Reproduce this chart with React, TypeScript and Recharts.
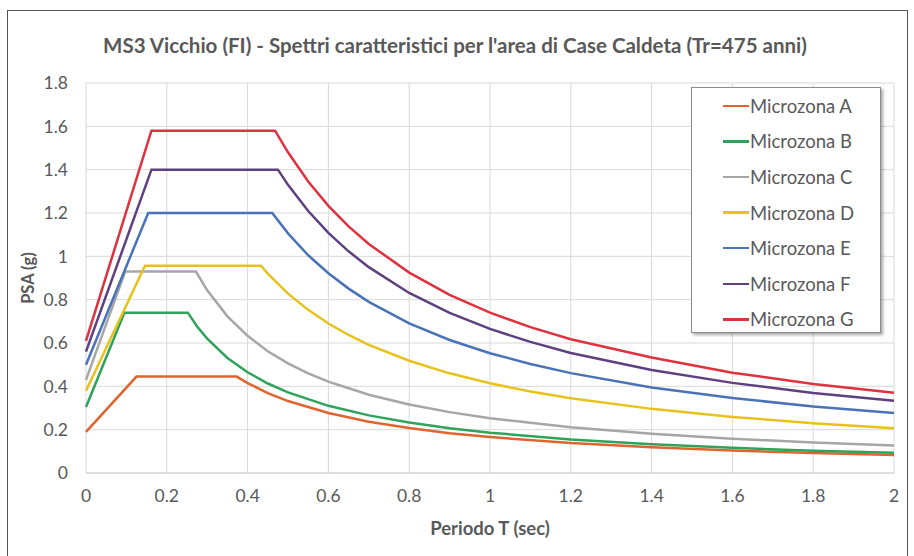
import { LineChart, Line, XAxis, YAxis, CartesianGrid } from "recharts"

// periodi (sec) e PSA (g), una coppia di array per microzona
const periodA = [0, 0.125, 0.373, 0.4, 0.45, 0.5, 0.6, 0.7, 0.8, 0.9, 1.0, 1.2, 1.4, 1.6, 1.8, 2.0]
const psaA = [0.19, 0.445, 0.445, 0.415, 0.369, 0.332, 0.277, 0.237, 0.208, 0.184, 0.166, 0.138, 0.119, 0.104, 0.092, 0.083]

const periodB = [0, 0.095, 0.252, 0.275, 0.3, 0.35, 0.4, 0.45, 0.5, 0.6, 0.7, 0.8, 0.9, 1.0, 1.2, 1.4, 1.6, 1.8, 2.0]
const psaB = [0.305, 0.74, 0.74, 0.676, 0.62, 0.531, 0.465, 0.413, 0.372, 0.31, 0.266, 0.233, 0.207, 0.186, 0.155, 0.133, 0.116, 0.103, 0.093]

const periodC = [0, 0.097, 0.272, 0.3, 0.35, 0.4, 0.45, 0.5, 0.55, 0.6, 0.7, 0.8, 0.9, 1.0, 1.2, 1.4, 1.6, 1.8, 2.0]
const psaC = [0.43, 0.93, 0.93, 0.843, 0.723, 0.633, 0.562, 0.506, 0.46, 0.422, 0.361, 0.316, 0.281, 0.253, 0.211, 0.181, 0.158, 0.141, 0.127]

const periodD = [0, 0.146, 0.433, 0.45, 0.5, 0.55, 0.6, 0.65, 0.7, 0.8, 0.9, 1.0, 1.1, 1.2, 1.4, 1.6, 1.8, 2.0]
const psaD = [0.38, 0.957, 0.957, 0.92, 0.828, 0.753, 0.69, 0.637, 0.591, 0.518, 0.46, 0.414, 0.376, 0.345, 0.296, 0.259, 0.23, 0.207]

const periodE = [0, 0.154, 0.461, 0.5, 0.55, 0.6, 0.65, 0.7, 0.8, 0.9, 1.0, 1.1, 1.2, 1.4, 1.6, 1.8, 2.0]
const psaE = [0.5, 1.2, 1.2, 1.106, 1.005, 0.922, 0.851, 0.79, 0.691, 0.614, 0.553, 0.503, 0.461, 0.395, 0.346, 0.307, 0.277]

const periodF = [0, 0.162, 0.475, 0.5, 0.55, 0.6, 0.65, 0.7, 0.8, 0.9, 1.0, 1.1, 1.2, 1.4, 1.6, 1.8, 2.0]
const psaF = [0.56, 1.4, 1.4, 1.33, 1.209, 1.108, 1.023, 0.95, 0.831, 0.739, 0.665, 0.605, 0.554, 0.475, 0.416, 0.369, 0.333]

const periodG = [0, 0.162, 0.468, 0.5, 0.55, 0.6, 0.65, 0.7, 0.8, 0.9, 1.0, 1.1, 1.2, 1.4, 1.6, 1.8, 2.0]
const psaG = [0.61, 1.58, 1.58, 1.48, 1.345, 1.233, 1.138, 1.057, 0.925, 0.822, 0.74, 0.673, 0.617, 0.533, 0.463, 0.411, 0.37]

const xTicks = [0, 0.2, 0.4, 0.6, 0.8, 1, 1.2, 1.4, 1.6, 1.8, 2]
const yTicks = [0, 0.2, 0.4, 0.6, 0.8, 1, 1.2, 1.4, 1.6, 1.8]

const toPoints = (periods: number[], values: number[]) =>
  periods.map((T, i) => ({ T, psa: values[i] }))

const series = [
  { name: "Microzona A", color: "#E0642E", data: toPoints(periodA, psaA) },
  { name: "Microzona B", color: "#2EA35A", data: toPoints(periodB, psaB) },
  { name: "Microzona C", color: "#A6A6A6", data: toPoints(periodC, psaC) },
  { name: "Microzona D", color: "#E8C21A", data: toPoints(periodD, psaD) },
  { name: "Microzona E", color: "#4A72B8", data: toPoints(periodE, psaE) },
  { name: "Microzona F", color: "#5E3F80", data: toPoints(periodF, psaF) },
  { name: "Microzona G", color: "#E0313E", data: toPoints(periodG, psaG) },
]

const font = "Lato, 'Open Sans', sans-serif"
const grey = "#595959"
const fmt = (v: number) => String(Math.round(v * 10) / 10)

export default function App() {
  return (
    <div style={{ position: "absolute", left: 0, top: 0, width: 914, height: 556, overflow: "hidden", background: "#fff", fontFamily: font }}>
      <div style={{ position: "absolute", left: 7, top: 10, width: 899, height: 600, border: "1px solid #555" }} />
      <div style={{ position: "absolute", left: 0, width: 910, top: 33, textAlign: "center", fontSize: 20.5, fontWeight: 700, color: grey }}>
        MS3 Vicchio (FI) - Spettri caratteristici per l'area di Case Caldeta (Tr=475 anni)
      </div>
      <div style={{ position: "absolute", left: 0, top: 0 }}>
        <LineChart width={914} height={556} margin={{ top: 83, right: 20, bottom: 0, left: 0 }} style={{ fontFamily: font }}>
          <CartesianGrid stroke="#d9d9d9" />
          <XAxis
            type="number"
            dataKey="T"
            domain={[0, 2]}
            ticks={xTicks}
            tickFormatter={fmt}
            height={83}
            tickSize={0}
            tickMargin={17}
            axisLine={{ stroke: "#d0d0d0" }}
            tick={{ fill: grey, fontSize: 17.5 }}
            label={{ value: "Periodo T (sec)", position: "insideBottom", offset: 21, fill: grey, fontSize: 18.5, fontWeight: 700 }}
          />
          <YAxis
            type="number"
            domain={[0, 1.8]}
            ticks={yTicks}
            tickFormatter={fmt}
            width={86}
            tickSize={0}
            tickMargin={18}
            axisLine={false}
            tick={{ fill: grey, fontSize: 17.5 }}
            label={{ value: "PSA (g)", angle: -90, position: "insideLeft", offset: 28, fill: grey, fontSize: 16.5, fontWeight: 700, style: { textAnchor: "middle" } }}
          />
          {series.map((s) => (
            <Line
              key={s.name}
              data={s.data}
              dataKey="psa"
              name={s.name}
              type="linear"
              stroke={s.color}
              strokeWidth={2.5}
              dot={false}
              activeDot={false}
              isAnimationActive={false}
            />
          ))}
        </LineChart>
      </div>
      <div
        style={{
          position: "absolute",
          left: 691,
          top: 87,
          width: 190,
          height: 246,
          background: "#fff",
          border: "1px solid #8c8c8c",
          boxShadow: "2px 2px 3px rgba(0,0,0,0.35)",
          boxSizing: "border-box",
          paddingTop: 0,
        }}
      >
        {series.map((s) => (
          <div key={s.name} style={{ display: "flex", alignItems: "center", height: 35.6, paddingLeft: 31 }}>
            <span style={{ display: "inline-block", width: 26, height: 2.5, background: s.color }} />
            <span style={{ fontSize: 18.5, color: grey, marginLeft: 1, whiteSpace: "nowrap" }}>{s.name}</span>
          </div>
        ))}
      </div>
    </div>
  )
}
